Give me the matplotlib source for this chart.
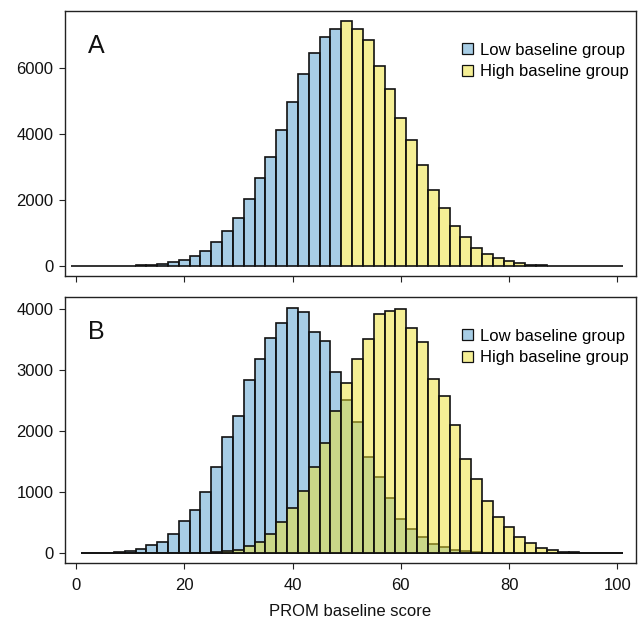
import matplotlib
matplotlib.use("Agg")
import matplotlib.pyplot as plt
from matplotlib.patches import Patch
import numpy as np

plt.rcParams['font.family'] = ['Liberation Sans', 'DejaVu Sans']

# ---------------- data ----------------
# Panel A: bins of width 2 centred on even scores (edges at odd numbers)
a_low_centers = [0, 2, 4, 6, 8, 10, 12, 14, 16, 18, 20, 22, 24, 26, 28, 30,
                 32, 34, 36, 38, 40, 42, 44, 46, 48]
a_low_counts = [0, 2, 3, 5, 10, 20, 30, 50, 75, 120, 185, 300, 470, 730, 1060,
                1465, 2040, 2660, 3310, 4120, 4980, 5840, 6450, 6950, 7200]
a_high_centers = [50, 52, 54, 56, 58, 60, 62, 64, 66, 68, 70, 72, 74, 76, 78,
                  80, 82, 84, 86, 88, 90, 92, 94, 96, 98, 100]
a_high_counts = [7450, 7200, 6860, 6060, 5380, 4490, 3820, 3060, 2320, 1760,
                 1230, 890, 545, 370, 262, 150, 90, 50, 30, 18, 10, 5, 3, 1, 1, 0]

# Panel B
b_centers = [2, 4, 6, 8, 10, 12, 14, 16, 18, 20, 22, 24, 26, 28, 30, 32, 34,
             36, 38, 40, 42, 44, 46, 48, 50, 52, 54, 56, 58, 60, 62, 64, 66,
             68, 70, 72, 74, 76, 78, 80, 82, 84, 86, 88, 90, 92, 94, 96, 98, 100]
b_low_counts = [2, 5, 8, 16, 38, 71, 130, 175, 305, 520, 700, 1005, 1420, 1910,
                2250, 2840, 3185, 3525, 3785, 4030, 3955, 3632, 3479, 2975, 2509,
                2153, 1578, 1245, 910, 564, 400, 263, 150, 95, 44, 27, 12, 5, 3,
                1, 0, 0, 0, 0, 0, 0, 0, 0, 0, 0]
b_high_counts = [0, 0, 0, 0, 0, 0, 0, 0, 0, 0, 2, 5, 12, 40, 55, 115, 180, 307,
                 507, 735, 1025, 1405, 1814, 2334, 2800, 3194, 3507, 3925, 3975,
                 4005, 3687, 3468, 2865, 2580, 2100, 1548, 1214, 849, 598, 425,
                 270, 164, 88, 55, 25, 11, 5, 2, 1, 0]

x_ticks = [0, 20, 40, 60, 80, 100]
a_yticks = [0, 2000, 4000, 6000]
b_yticks = [0, 1000, 2000, 3000, 4000]
legend_labels = ["Low baseline group", "High baseline group"]
x_label = "PROM baseline score"

# ---------------- style ----------------
BLUE = (80/255, 157/255, 205/255, 0.5)
YELLOW = (237/255, 225/255, 45/255, 0.5)
EDGE = "#111111"
LW = 1.2

fig = plt.figure(figsize=(6.42, 6.22), dpi=100)
W, H = 642, 622


def ax_at(left, top, right, bottom):
    return fig.add_axes([left / W, 1 - bottom / H, (right - left) / W, (bottom - top) / H])


axA = ax_at(64.5, 10.7, 636, 276)
axB = ax_at(64.5, 296.7, 636, 562.9)

axA.bar(a_low_centers, a_low_counts, width=2, facecolor=BLUE, edgecolor=EDGE, linewidth=LW)
axA.bar(a_high_centers, a_high_counts, width=2, facecolor=YELLOW, edgecolor=EDGE, linewidth=LW)

axB.bar(b_centers, b_low_counts, width=2, facecolor=BLUE, edgecolor=EDGE, linewidth=LW)
axB.bar(b_centers, b_high_counts, width=2, facecolor=YELLOW, edgecolor=EDGE, linewidth=LW)

axA.set_ylim(-298, 7748)
axB.set_ylim(-162, 4209)

for ax, yt, letter in ((axA, a_yticks, "A"), (axB, b_yticks, "B")):
    ax.set_xlim(-2.12, 103.45)
    ax.set_xticks(x_ticks)
    ax.set_yticks(yt)
    ax.set_yticklabels([str(v) for v in yt])
    for s in ax.spines.values():
        s.set_linewidth(1.0)
        s.set_color("#222222")
    ax.tick_params(axis="both", direction="out", length=4.3, width=0.8,
                   color="#222222", labelsize=12, labelcolor="#111111")
    ax.tick_params(axis="y", pad=3.6)
    ax.tick_params(axis="x", pad=6.5)
    ax.text(0.041, 0.84, letter, transform=ax.transAxes, fontsize=18,
            va="baseline", ha="left", color="#111111")
    handles = [Patch(facecolor=BLUE, edgecolor=EDGE, linewidth=0.9),
               Patch(facecolor=YELLOW, edgecolor=EDGE, linewidth=0.9)]
    ax.legend(handles, legend_labels, loc="upper left", bbox_to_anchor=(0.6955, 0.880),
              frameon=False, fontsize=12, handlelength=0.66, handleheight=0.66,
              handletextpad=0.42, labelspacing=0.39, borderpad=0, borderaxespad=0)

axA.set_xticklabels([])
axB.set_xlabel(x_label, fontsize=12, labelpad=8, color="#111111")

fig.savefig("out.png", dpi=100)
